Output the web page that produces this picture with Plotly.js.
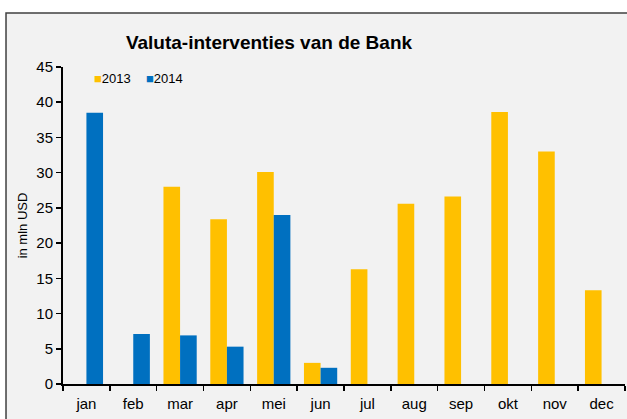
<!DOCTYPE html>
<html>
<head>
<meta charset="utf-8">
<script src="https://cdn.plot.ly/plotly-3.0.1.min.js"></script>
<style>
  html, body { margin: 0; padding: 0; background: #ffffff; }
  #chart { width: 627px; height: 419px; }
</style>
</head>
<body>
<div id="chart"></div>
<script>
// Valuta-interventies van de Bank, mln USD per maand

const MONTHS = ["jan", "feb", "mar", "apr", "mei", "jun", "jul", "aug", "sep", "okt", "nov", "dec"];
const VALUES_2013 = [null, null, 28.0, 23.4, 30.1, 3.0, 16.3, 25.6, 26.6, 38.6, 33.0, 13.3];
const VALUES_2014 = [38.5, 7.1, 6.9, 5.3, 24.0, 2.3, null, null, null, null, null, null];
const SERIES_NAMES = ["2013", "2014"];
const Y_TICKS = [0, 5, 10, 15, 20, 25, 30, 35, 40, 45];

const YELLOW = "#FFC000";
const BLUE = "#0070C0";
const PANEL = "#F2F2F2";
const FONT = "Liberation Sans, Arial, sans-serif";

function barTrace(name, values, color) {
    return {
        type: "bar",
        name: name,
        x: MONTHS,
        y: values,
        marker: { color: color, line: { width: 0 } },
        hoverinfo: "x+y"
    };
}

const traces = [
    barTrace(SERIES_NAMES[0], VALUES_2013, YELLOW),
    barTrace(SERIES_NAMES[1], VALUES_2014, BLUE)
];

// compact legend in the style of the original (small square right against the label)
function legendItem(name, color, xPos) {
    return {
        xref: "paper",
        yref: "paper",
        x: xPos,
        y: 0.965,
        xanchor: "left",
        yanchor: "middle",
        showarrow: false,
        text: `<span style="color:${color}">■</span>${name}`,
        font: { family: FONT, size: 13, color: "#000000" }
    };
}

const layout = {
    width: 627,
    height: 419,
    paper_bgcolor: "#ffffff",
    plot_bgcolor: "rgba(0,0,0,0)",
    margin: { l: 63, r: 2, t: 67, b: 35 },
    barmode: "group",
    bargap: 0.29,
    bargroupgap: 0,
    font: { family: FONT, color: "#000000", size: 13 },
    title: {
        text: "<b>Valuta-interventies van de Bank</b>",
        x: 0.429,
        xanchor: "center",
        y: 0.9,
        yanchor: "middle",
        font: { family: FONT, size: 19, color: "#000000" }
    },
    showlegend: false,
    annotations: [
        legendItem(SERIES_NAMES[0], YELLOW, 0.052),
        legendItem(SERIES_NAMES[1], BLUE, 0.145)
    ],
    xaxis: {
        type: "category",
        tickson: "boundaries",
        ticks: "outside",
        ticklen: 5,
        tickwidth: 1.5,
        tickcolor: "#000000",
        ticklabelstandoff: 5,
        showline: true,
        linecolor: "#000000",
        linewidth: 2,
        showgrid: false,
        zeroline: false,
        tickfont: { family: FONT, size: 15, color: "#000000" },
        fixedrange: true
    },
    yaxis: {
        range: [0, 45],
        tickvals: Y_TICKS,
        ticks: "outside",
        ticklen: 5,
        tickwidth: 1.5,
        tickcolor: "#000000",
        showline: true,
        linecolor: "#000000",
        linewidth: 2,
        showgrid: false,
        zeroline: false,
        tickfont: { family: FONT, size: 15, color: "#000000" },
        title: {
            text: "in mln USD",
            standoff: 6,
            font: { family: FONT, size: 13, color: "#000000" }
        },
        fixedrange: true
    },
    shapes: [
        {
            type: "rect",
            xref: "paper",
            yref: "paper",
            x0: -0.1014,
            x1: 1.05,
            y0: -0.2,
            y1: 1.1703,
            fillcolor: PANEL,
            line: { color: "#404040", width: 1.5 },
            layer: "below"
        }
    ]
};

Plotly.newPlot("chart", traces, layout, { displayModeBar: false, staticPlot: true });
</script>
</body>
</html>
